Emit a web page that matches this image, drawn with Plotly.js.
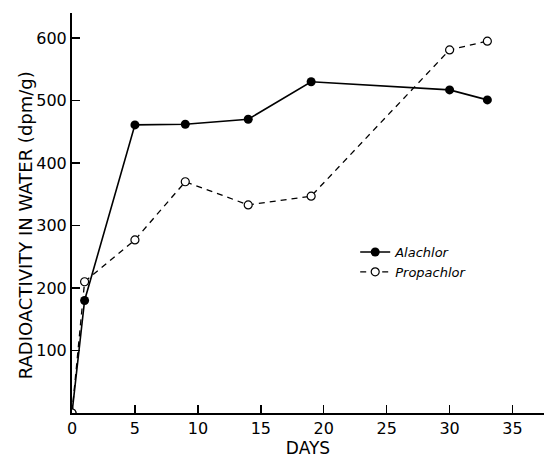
<!DOCTYPE html>
<html>
<head>
<meta charset="utf-8">
<script src="https://cdn.plot.ly/plotly-3.0.1.min.js"></script>
<style>html,body{margin:0;padding:0;background:#fff;}#chart{width:544px;height:458px;}</style>
</head>
<body>
<div id="chart"></div>
<script>
const days = [0, 1, 5, 9, 14, 19, 30, 33];
const alachlor = [0, 180, 461, 462, 470, 530, 517, 501];
const propachlor = [0, 210, 277, 370, 333, 347, 581, 595];
const xTicks = [0, 5, 10, 15, 20, 25, 30, 35];
const yTicks = [100, 200, 300, 400, 500, 600];
const yTitle = 'RADIOACTIVITY IN WATER (dpm/g)';
const xTitle = 'DAYS';

const font = 'DejaVu Sans, sans-serif';

const traces = [
  {
    x: days, y: alachlor, name: 'Alachlor', type: 'scatter', mode: 'lines+markers',
    line: {color: '#000', width: 1.6},
    marker: {symbol: 'circle', size: 9, color: '#000'}
  },
  {
    x: days, y: propachlor, name: 'Propachlor', type: 'scatter', mode: 'lines+markers',
    line: {color: '#000', width: 1.3, dash: '6px,5px'},
    marker: {symbol: 'circle', size: 8, color: '#fff', line: {color: '#000', width: 1.2}}
  }
];

const layout = {
  width: 544, height: 458,
  margin: {l: 72, r: 0, t: 13, b: 45},
  paper_bgcolor: '#fff', plot_bgcolor: '#fff',
  font: {family: font, color: '#000', size: 15},
  showlegend: true,
  legend: {
    x: 0.60, y: 0.44, xanchor: 'left', yanchor: 'top',
    font: {family: font, size: 13, style: 'italic'},
    bgcolor: 'rgba(0,0,0,0)', tracegroupgap: 0
  },
  xaxis: {
    range: [0, 37.5], tickvals: xTicks, ticktext: xTicks.map(String),
    ticks: 'inside', ticklen: 8, tickwidth: 1.5, tickcolor: '#000',
    showline: true, linecolor: '#000', linewidth: 2,
    showgrid: false, zeroline: false,
    tickfont: {family: font, size: 16},
    title: {text: xTitle, font: {family: font, size: 17}, standoff: 4}
  },
  yaxis: {
    range: [0, 640], tickvals: yTicks, ticktext: yTicks.map(String),
    ticks: 'inside', ticklen: 8, tickwidth: 1.5, tickcolor: '#000',
    showline: true, linecolor: '#000', linewidth: 2,
    showgrid: false, zeroline: false,
    tickfont: {family: font, size: 16}
  },
  annotations: [{
    text: yTitle, xref: 'paper', yref: 'paper',
    x: -0.099, y: 0.47, xanchor: 'center', yanchor: 'middle',
    textangle: -90, showarrow: false,
    font: {family: font, size: 18, color: '#000'}
  }]
};

Plotly.newPlot('chart', traces, layout, {displayModeBar: false, staticPlot: true});
</script>
</body>
</html>
